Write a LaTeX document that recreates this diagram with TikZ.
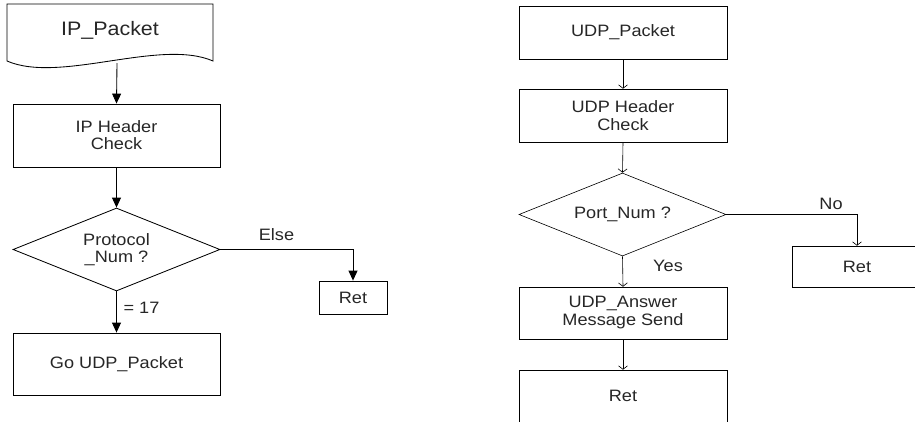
\documentclass[tikz,border=0pt]{standalone}
\usepackage{fontspec}
\setmainfont[FakeStretch=1.1]{Liberation Sans}
\usetikzlibrary{shapes.geometric,arrows.meta}
\begin{document}
\begin{tikzpicture}[x=1pt,y=-1pt,
  lft/.style={line width=0.85pt},
  rgt/.style={line width=0.6pt},
  txt/.style={text=black!85},
  lbox/.style={draw,lft,txt,rectangle,inner sep=0pt,align=center,font=\fontsize{16.5}{17}\selectfont},
  rbox/.style={draw,rgt,txt,rectangle,inner sep=0pt,align=center,font=\fontsize{16.5}{18}\selectfont},
  ldia/.style={draw,lft,txt,diamond,aspect=2.5,inner sep=0pt,minimum width=207pt,minimum height=83pt,align=center,font=\fontsize{16.5}{16.5}\selectfont},
  rdia/.style={draw,rgt,txt,diamond,aspect=2.5,inner sep=0pt,minimum width=207pt,minimum height=83pt,align=center,font=\fontsize{16.5}{17}\selectfont},
  lbl/.style={txt,inner sep=0pt,font=\fontsize{16.5}{17}\selectfont},
  larr/.style={lft,-{Triangle[width=9pt,length=10pt]}},
  rarr/.style={rgt,-{Straight Barb[width=9pt,length=3.5pt]}}
]
\useasboundingbox (0,0) rectangle (915,421);
% ---------- left flowchart ----------
\draw[lft] (7,61) -- (7,4) -- (213,4) -- (213,61)
  .. controls (160,38) and (60,84) .. (7,61) -- cycle;
\node[txt,inner sep=0pt,font=\fontsize{19.5}{20}\selectfont] (ip) at (110,30) {IP\_Packet};
\coordinate (ipb) at (117,63);
\node[lbox,minimum width=207pt,minimum height=63pt] (iphc) at (116.5,135.5) {IP Header\\Check};
\node[ldia] (pdia) at (116.5,249.5) {Protocol\\\_Num ?};
\node[lbox,minimum width=68pt,minimum height=33pt] (lret) at (353,297.5) {Ret};
\node[lbox,minimum width=207pt,minimum height=62pt] (goudp) at (116.5,364) {Go UDP\_Packet};
\draw[larr] (ipb) -- (iphc.north);
\draw[larr] (iphc.south) -- (pdia.north);
\draw[larr] (pdia.east) -| (lret.north);
\draw[larr] (pdia.south) -- (goudp.north);
\node[lbl] (else) at (276.5,235) {Else};
\node[lbl] (eq) at (141.5,308) {= 17};
% ---------- right flowchart ----------
\node[rbox,minimum width=208pt,minimum height=53pt] (udp) at (623,32.5) {UDP\_Packet};
\node[rbox,minimum width=208pt,minimum height=53pt] (udphc) at (623,115.5) {UDP Header\\Check};
\node[rdia] (port) at (622.5,214.5) {Port\_Num ?};
\node[rbox,minimum width=130pt,minimum height=41pt] (rret) at (857,266.5) {Ret};
\node[rbox,minimum width=208pt,minimum height=52pt] (ans) at (623,313) {UDP\_Answer\\Message Send};
\node[rbox,minimum width=208pt,minimum height=52pt] (ret2) at (623,396) {Ret};
\draw[rarr] (udp.south) -- (udphc.north);
\draw[rarr] (udphc.south) -- (port.north);
\draw[rarr] (port.east) -| (rret.north);
\draw[rarr] (port.south) -- (ans.north);
\draw[rarr] (ans.south) -- (ret2.north);
\node[lbl] (no) at (831,204) {No};
\node[lbl] (yes) at (668,266) {Yes};
\end{tikzpicture}
\end{document}
